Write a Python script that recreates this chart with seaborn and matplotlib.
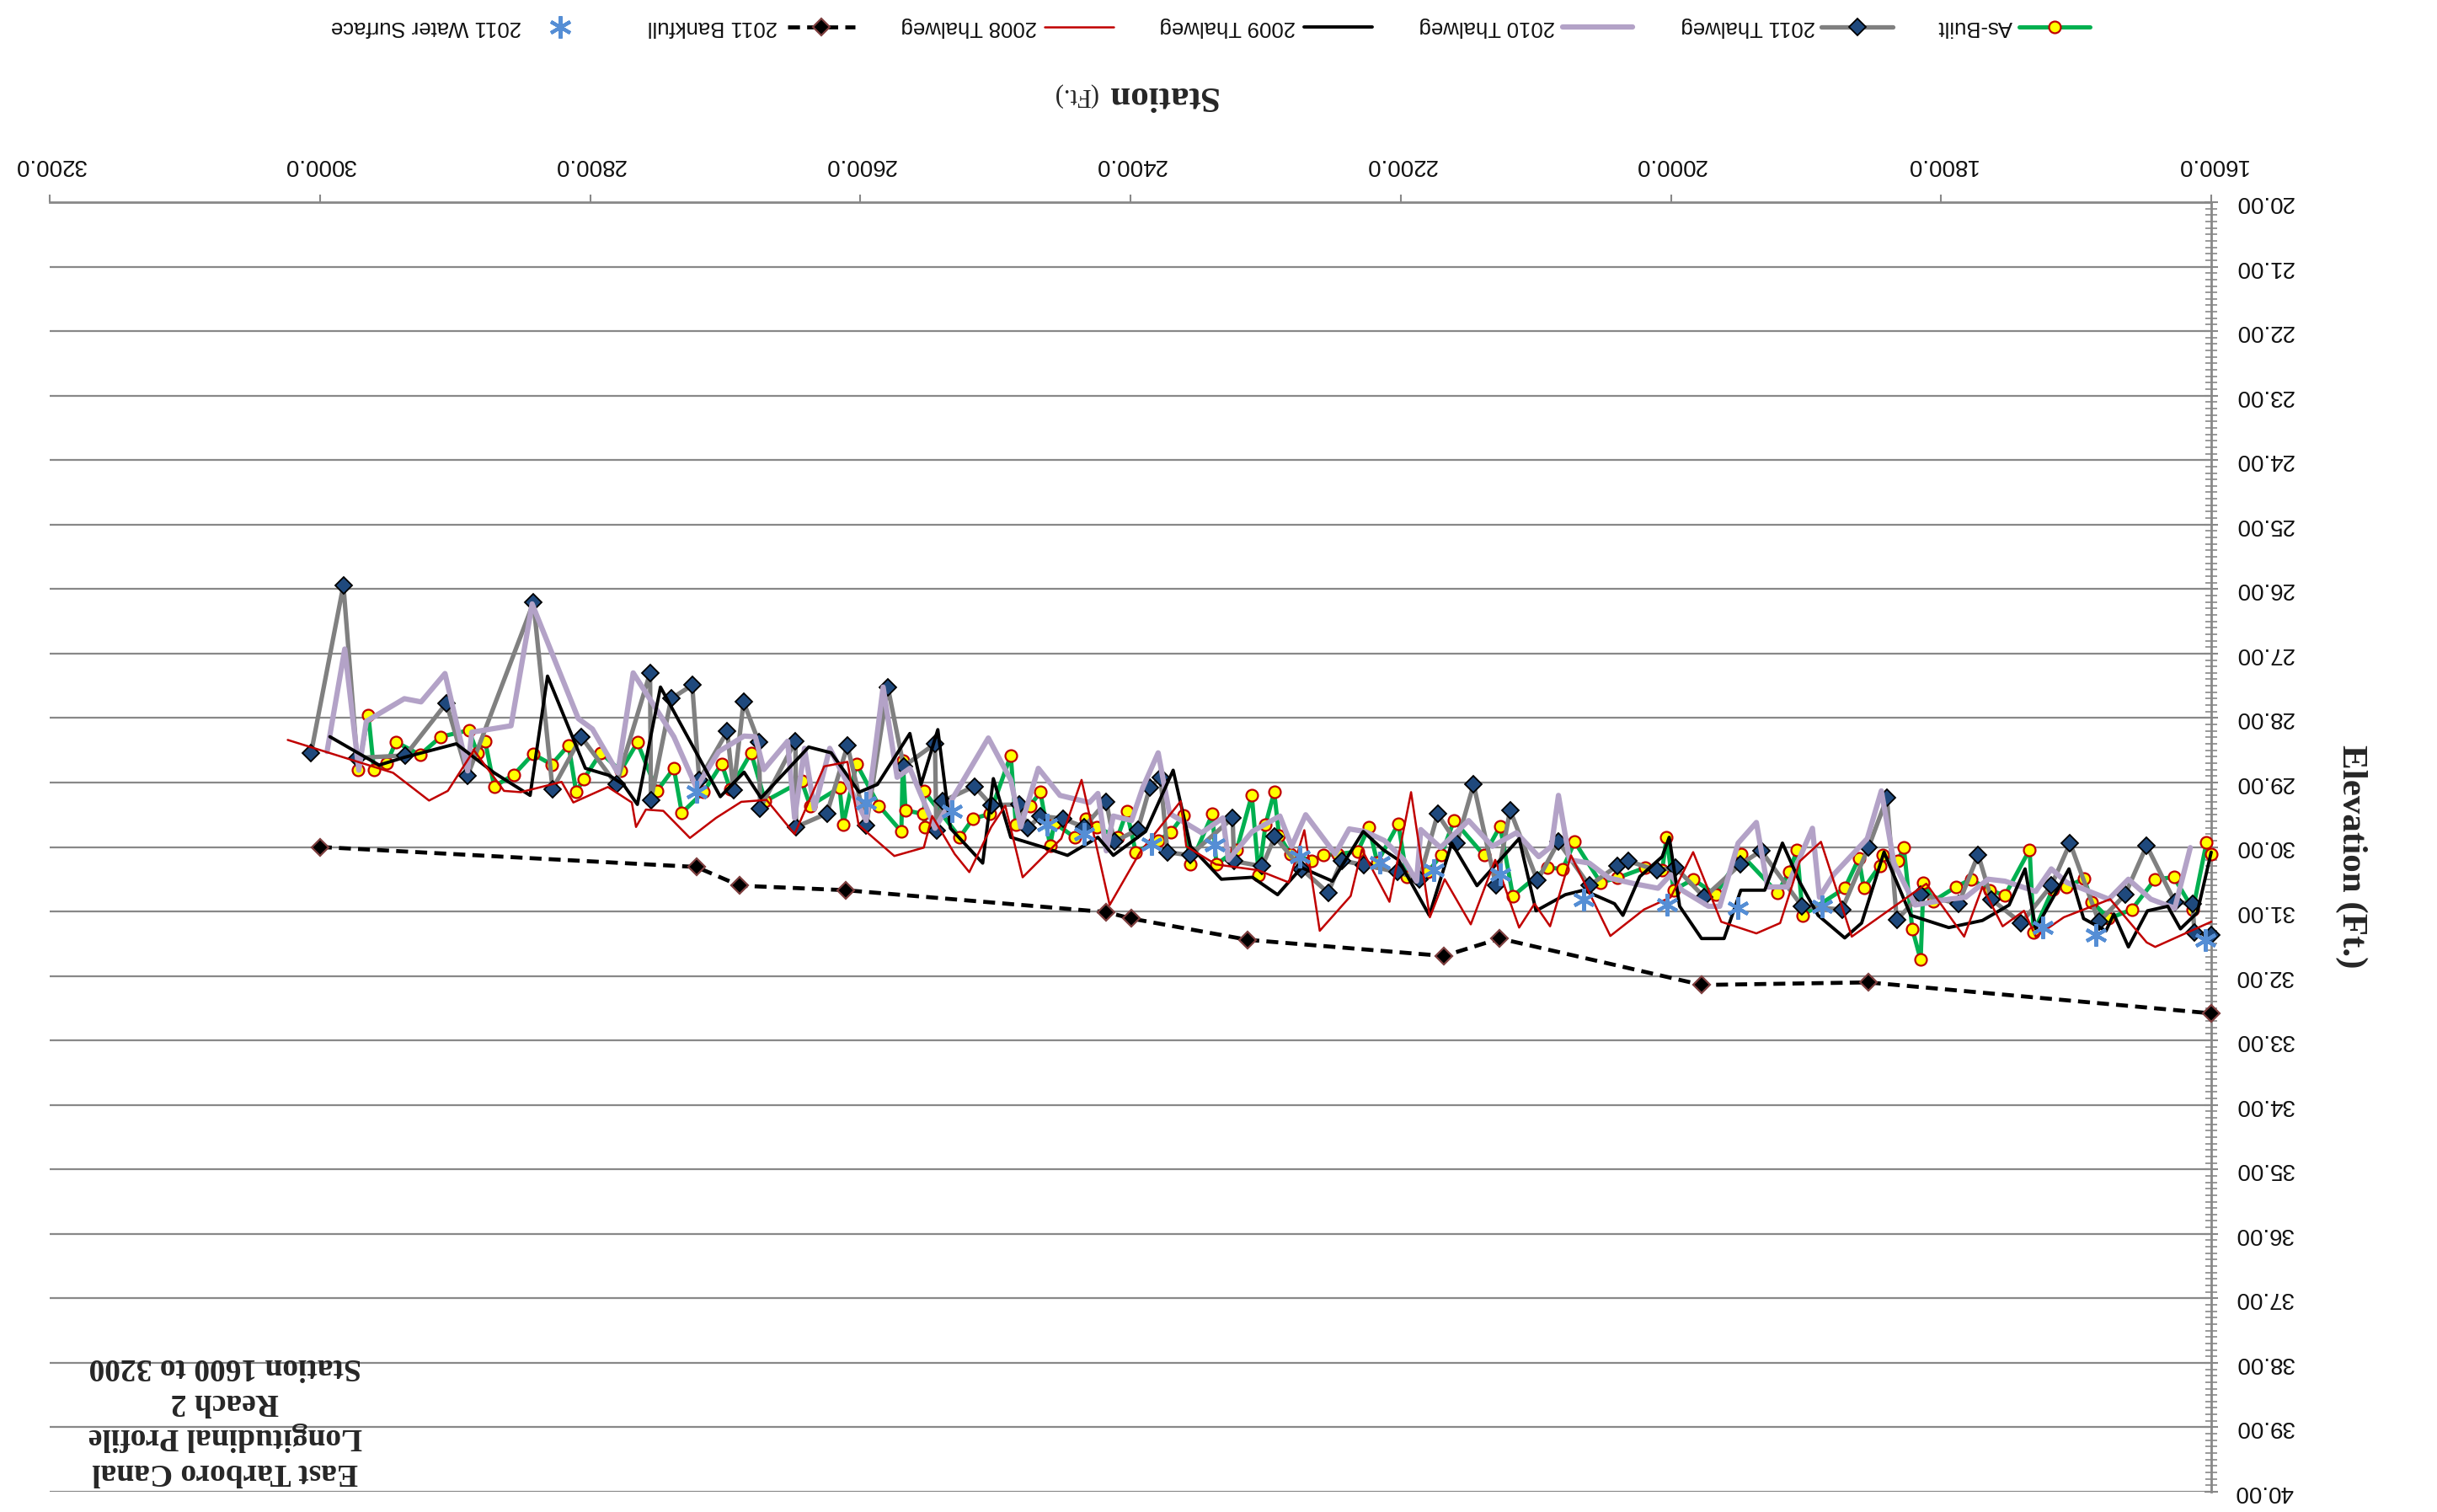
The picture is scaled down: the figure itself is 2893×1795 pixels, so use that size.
import matplotlib
matplotlib.use("Agg")
import matplotlib.pyplot as plt
import seaborn as sns
import pandas as pd
from matplotlib.lines import Line2D
from matplotlib.ticker import MultipleLocator

# ---------------- data (station ft, elevation ft) ----------------
station_ticks = [1600, 1800, 2000, 2200, 2400, 2600, 2800, 3000, 3200]
elev_ticks = list(range(20, 41))

as_built = [
    (2971.8, 28.81), (2964.1, 27.95), (2960.0, 28.80), (2950.4, 28.70), (2943.8, 28.37), (2925.9, 28.57),
    (2910.5, 28.29), (2889.7, 28.19), (2883.5, 28.54), (2877.7, 28.36), (2871.0, 29.06), (2856.5, 28.88),
    (2842.3, 28.56), (2828.4, 28.72), (2815.9, 28.42), (2810.3, 29.15), (2804.9, 28.95), (2792.0, 28.54),
    (2777.4, 28.82), (2765.0, 28.38), (2750.4, 29.13), (2738.0, 28.78), (2732.1, 29.47), (2716.1, 29.15),
    (2702.6, 28.71), (2696.4, 29.10), (2680.8, 28.54), (2670.4, 29.29), (2643.4, 28.98), (2637.1, 29.36),
    (2615.3, 29.08), (2612.6, 29.65), (2602.8, 28.71), (2586.2, 29.36), (2569.6, 29.76), (2568.5, 28.66),
    (2566.5, 29.43), (2553.4, 29.49), (2552.0, 29.69), (2553.0, 29.13),
    (2526.4, 29.85), (2516.6, 29.56), (2504.2, 29.49), (2488.6, 28.58), (2484.8, 29.66), (2474.4, 29.36),
    (2466.7, 29.15), (2459.5, 29.98), (2456.4, 29.63), (2441.2, 29.85), (2432.9, 29.56), (2425.2, 29.69),
    (2409.6, 29.85), (2402.7, 29.45), (2396.1, 30.08), (2379.5, 29.90), (2370.1, 29.77), (2360.8, 29.51),
    (2355.6, 30.27), (2339.4, 29.49), (2336.4, 30.27), (2321.3, 30.04),
    (2310.2, 29.20), (2305.0, 30.44), (2300.0, 29.65), (2293.6, 29.15), (2290.0, 29.82), (2281.7, 30.11),
    (2266.1, 30.21), (2257.2, 30.13), (2246.4, 30.11), (2231.8, 30.07), (2223.5, 29.69), (2217.3, 30.24),
    (2201.7, 29.64), (2195.5, 30.46), (2179.9, 30.39), (2170.1, 30.13), (2160.5, 29.59), (2138.3, 30.13),
    (2126.4, 29.68), (2116.9, 30.76), (2091.5, 30.32), (2080.1, 30.34),
    (2071.2, 29.92), (2052.1, 30.55), (2039.6, 30.48), (2018.8, 30.32), (2006.4, 30.36), (2003.2, 29.85),
    (1998.0, 30.67), (1983.5, 30.50), (1966.9, 30.74), (1948.2, 30.11), (1921.1, 30.71), (1912.4, 30.39),
    (1906.6, 30.05), (1902.4, 31.06), (1871.3, 30.64), (1860.9, 30.18), (1857.1, 30.64), (1845.3, 30.29),
    (1843.2, 30.13),
    (1831.7, 30.21), (1827.6, 30.00), (1821.3, 31.27), (1815.1, 31.75), (1813.0, 30.55), (1805.7, 30.84),
    (1789.1, 30.62), (1777.7, 30.50), (1764.2, 30.67), (1752.7, 30.75), (1734.4, 30.04), (1731.5, 31.32),
    (1717.4, 30.66), (1707.0, 30.62), (1694.1, 30.49), (1688.3, 30.85), (1675.8, 31.11), (1658.8, 30.97),
    (1641.5, 30.50), (1627.6, 30.47), (1613.5, 30.97), (1603.5, 29.93), (1600.0, 30.11),
]

thalweg_2011 = [
    (3006.5, 28.54), (2982.6, 25.94), (2972.5, 28.62), (2936.7, 28.58), (2906.4, 27.77), (2890.6, 28.89),
    (2841.9, 26.21), (2827.8, 29.10), (2806.6, 28.29),
    (2780.6, 29.03), (2755.6, 27.30), (2755.0, 29.27), (2740.0, 27.70), (2724.4, 27.49), (2719.2, 28.96),
    (2698.5, 28.21), (2693.9, 29.12), (2686.4, 27.75), (2675.0, 28.38), (2674.1, 29.40), (2648.0, 28.36),
    (2647.5, 29.69), (2624.7, 29.48), (2609.5, 28.43), (2595.6, 29.67), (2579.6, 27.52), (2567.9, 28.75),
    (2544.7, 28.40), (2543.7, 29.74), (2538.9, 29.29), (2515.6, 29.06), (2503.1, 29.35), (2482.3, 29.34),
    (2476.1, 29.71), (2466.7, 29.52), (2450.1, 29.56), (2434.5, 29.69), (2417.9, 29.30), (2412.1, 29.92),
    (2394.6, 29.73), (2385.7, 29.08), (2377.8, 28.92), (2372.6, 30.08), (2356.0, 30.13), (2324.4, 29.55),
    (2323.3, 30.22),
    (2302.5, 30.30), (2293.1, 29.84), (2273.4, 30.34), (2253.7, 30.71), (2243.7, 30.21), (2227.0, 30.28),
    (2202.1, 30.39), (2186.1, 30.50), (2172.6, 29.49), (2158.5, 29.94), (2146.0, 29.03), (2129.4, 30.60),
    (2119.0, 29.43), (2098.8, 30.52), (2083.2, 29.92),
    (2060.4, 30.60), (2039.6, 30.29), (2031.3, 30.22), (2010.5, 30.36), (1996.4, 30.32), (1975.2, 30.78),
    (1948.6, 30.27), (1933.2, 30.06), (1902.9, 30.92), (1873.3, 30.97), (1853.6, 30.00), (1840.1, 29.24),
    (1832.8, 31.13), (1815.1, 30.74), (1787.0, 30.88), (1772.5, 30.12), (1762.7, 30.81), (1740.7, 31.18),
    (1718.4, 30.60), (1704.5, 29.94), (1683.1, 31.16), (1663.8, 30.74), (1647.8, 29.98), (1627.0, 30.85),
    (1613.9, 30.88), (1612.4, 31.32), (1600.0, 31.37),
]

thalweg_2010 = [
    (2994.7, 28.52), (2981.6, 26.93), (2971.2, 28.81), (2965.6, 28.05), (2937.5, 27.70), (2925.1, 27.75),
    (2907.4, 27.31), (2890.6, 28.82), (2887.6, 28.22), (2858.5, 28.12), (2842.9, 26.23), (2808.7, 28.01),
    (2798.3, 28.17),
    (2779.5, 28.85), (2768.1, 27.30), (2738.0, 28.29), (2721.3, 29.08), (2704.7, 28.52), (2686.0, 28.28),
    (2677.7, 28.29), (2671.4, 28.80), (2653.8, 28.36), (2648.6, 29.55), (2641.3, 28.47), (2634.0, 29.41),
    (2622.6, 28.47), (2595.6, 29.59), (2583.1, 27.52), (2572.7, 28.92), (2563.3, 28.78),
    (2544.7, 29.71), (2505.2, 28.31), (2488.6, 28.96), (2481.3, 29.69), (2468.2, 28.78), (2452.2, 29.20),
    (2430.4, 29.31), (2424.1, 29.17), (2417.9, 30.06), (2412.7, 29.52), (2399.2, 29.59), (2390.9, 29.08),
    (2379.5, 28.54), (2371.1, 29.48), (2347.3, 29.78), (2331.6, 29.55), (2327.5, 30.20),
    (2309.8, 29.76), (2289.4, 29.52), (2280.7, 29.99), (2270.3, 29.50), (2248.5, 30.11), (2238.1, 29.72),
    (2226.6, 29.76), (2212.1, 29.90), (2197.5, 30.20), (2188.2, 30.53), (2185.1, 29.73), (2170.5, 30.01),
    (2149.7, 29.59), (2132.1, 29.99), (2114.4, 29.78), (2097.8, 30.15), (2088.4, 29.99), (2083.2, 29.20),
    (2075.0, 30.20), (2060.4, 30.25), (2045.9, 30.48), (2027.1, 30.57), (2009.5, 30.64), (2000.1, 30.43),
    (1991.8, 30.67), (1972.1, 30.92), (1963.8, 30.92), (1950.2, 29.94), (1936.7, 29.62), (1928.4, 30.62),
    (1913.9, 30.62), (1895.2, 29.71), (1890.0, 30.78), (1879.6, 30.43), (1854.6, 29.87), (1844.2, 29.13),
    (1834.8, 30.25), (1819.2, 30.90), (1794.3, 30.81), (1781.8, 30.78), (1765.2, 30.50), (1752.7, 30.53),
    (1729.9, 30.69), (1718.4, 30.34), (1707.0, 30.55), (1675.8, 30.81), (1661.3, 30.50), (1644.7, 30.81),
    (1627.0, 30.95), (1615.5, 30.01),
]

thalweg_2009 = [
    (2992.6, 28.29), (2956.2, 28.73), (2937.5, 28.61), (2899.1, 28.40), (2871.0, 28.85), (2844.4, 29.20),
    (2831.5, 27.35), (2803.5, 28.78),
    (2785.8, 28.89), (2775.4, 29.03), (2765.0, 29.34), (2747.9, 27.52), (2703.6, 29.22), (2686.0, 28.84),
    (2673.5, 29.24), (2638.2, 28.45), (2621.5, 28.54), (2600.8, 29.15), (2587.3, 29.03), (2563.3, 28.24),
    (2555.0, 29.03),
    (2542.6, 28.18), (2533.3, 29.71), (2509.4, 30.25), (2501.5, 28.94), (2488.6, 29.85), (2463.6, 30.01),
    (2446.6, 30.13), (2424.1, 29.85), (2412.7, 30.13), (2388.8, 29.76), (2368.4, 28.81), (2355.6, 29.99),
    (2332.7, 30.50),
    (2309.8, 30.47), (2291.1, 30.74), (2273.4, 30.32), (2250.5, 30.53), (2227.7, 29.76), (2213.1, 30.04),
    (2201.7, 30.20), (2178.8, 31.06), (2162.2, 29.94), (2143.5, 30.60), (2112.3, 29.87), (2099.8, 30.99),
    (2078.1, 30.74), (2064.6, 30.67), (2041.7, 30.88), (2035.5, 31.06), (2023.0, 30.46), (2006.4, 30.15),
    (2001.2, 29.85), (1993.5, 30.92), (1977.3, 31.42), (1960.6, 31.42), (1948.2, 30.67), (1930.5, 30.67),
    (1917.4, 29.94), (1904.5, 30.55), (1891.0, 31.06), (1871.3, 31.41), (1858.8, 31.18), (1842.2, 30.08),
    (1822.4, 31.06), (1794.3, 31.25), (1769.4, 31.14), (1749.6, 30.90), (1737.8, 30.34), (1729.9, 31.27),
    (1705.3, 30.34), (1694.5, 31.11), (1677.9, 31.30), (1672.1, 31.04), (1661.3, 31.55), (1647.2, 30.99),
    (1632.2, 30.92), (1622.8, 31.27), (1610.4, 31.02), (1600.0, 30.08),
]

thalweg_2008 = [
    (3023.8, 28.34), (2945.8, 28.85), (2919.2, 29.28), (2905.3, 29.13), (2886.0, 28.50), (2863.7, 29.13),
    (2851.3, 29.15), (2821.1, 28.99), (2812.4, 29.31),
    (2786.8, 29.07), (2769.1, 29.31), (2766.0, 29.69), (2758.7, 29.42), (2745.8, 29.44), (2726.1, 29.86),
    (2706.8, 29.55), (2688.1, 29.30), (2669.4, 29.27), (2648.6, 29.80), (2626.7, 28.75), (2609.5, 28.68),
    (2601.2, 29.66), (2574.8, 30.14), (2553.0, 30.01),
    (2546.8, 29.52), (2530.1, 30.11), (2519.3, 30.39), (2503.1, 29.69), (2492.7, 29.36), (2479.8, 30.47),
    (2451.2, 29.87), (2436.2, 28.96), (2415.4, 30.90), (2392.9, 30.08), (2362.8, 29.29), (2358.7, 29.99),
    (2336.8, 30.27),
    (2305.6, 30.36), (2282.8, 30.55), (2271.3, 29.74), (2259.9, 31.30), (2237.0, 30.76), (2228.7, 30.04),
    (2208.3, 30.85), (2192.3, 29.15), (2178.4, 31.09), (2167.4, 30.50), (2148.1, 31.20), (2130.0, 30.20),
    (2112.3, 31.25), (2100.9, 30.88), (2089.4, 31.23),
    (2073.9, 30.13), (2044.8, 31.38), (2019.9, 30.97), (2000.1, 30.78), (1983.5, 30.08), (1962.7, 31.16),
    (1936.7, 31.34), (1919.1, 31.18), (1904.5, 30.22), (1888.9, 29.92), (1866.1, 31.39),
    (1810.9, 30.57), (1782.9, 31.39), (1769.4, 30.62), (1754.4, 31.23), (1738.6, 30.99), (1729.9, 31.39),
    (1709.1, 31.09), (1674.8, 30.81), (1647.8, 31.48), (1641.5, 31.55), (1600.0, 31.16),
]

bankfull_2011 = [
    (3000.0, 30.00), (2721.4, 30.31), (2689.2, 30.60), (2611.0, 30.67), (2417.8, 31.01), (2399.4, 31.11),
    (2313.1, 31.44), (2168.0, 31.69), (2126.6, 31.42), (1977.0, 32.14), (1854.0, 32.10), (1600.0, 32.58),
]

water_surface_2011 = [
    (2721.3, 29.15), (2595.6, 29.31), (2532.2, 29.45), (2462.0, 29.66), (2434.1, 29.80), (2384.6, 29.96),
    (2337.9, 29.97), (2274.4, 30.15), (2215.2, 30.24), (2175.7, 30.36), (2126.4, 30.42), (2064.6, 30.81),
    (2002.6, 30.90), (1950.2, 30.95), (1888.3, 30.92), (1724.7, 31.25), (1685.2, 31.36), (1604.1, 31.44),
]

legend_labels = ["As-Built", "2011 Thalweg", "2010 Thalweg", "2009 Thalweg",
                 "2008 Thalweg", "2011 Bankfull", "2011 Water Surface"]

title_lines = ["East Tarboro Canal", "Longitudinal Profile", "Reach 2", "Station 1600 to 3200"]

# ---------------- styling ----------------
sns.set_style("white")
plt.rcParams["font.family"] = ["Liberation Sans", "DejaVu Sans"]

W, H = 2893, 1795
GRID = "#888888"
fig = plt.figure(figsize=(W / 100, H / 100), dpi=100)
ax = fig.add_axes([59 / W, 24 / H, 2566 / W, 1531 / H])

C_GREEN, C_YEL, C_RED = "#00B050", "#FFFF00", "#C00000"
C_GRAY, C_NAVY = "#808080", "#1F497D"
C_PURP, C_BLUE = "#B3A2C7", "#558ED5"
C_BROWN = "#7F3F3F"

styles = [
    dict(color=C_GREEN, lw=3.6, marker="o", ms=10, mfc=C_YEL, mec=C_RED, mew=1.6, zorder=3),
    dict(color=C_GRAY, lw=3.8, marker="D", ms=10, mfc=C_NAVY, mec="black", mew=1.3, zorder=4),
    dict(color=C_PURP, lw=4.5, zorder=5),
    dict(color="black", lw=2.8, zorder=6),
    dict(color=C_RED, lw=1.8, zorder=7),
    dict(color="black", lw=3.4, ls=(0, (3, 1.8)), marker="D", ms=10, mfc="black", mec=C_BROWN, mew=1.6, zorder=8),
    dict(color=C_BLUE, ls="none", marker=(6, 2, 0), ms=19, mew=3, mec=C_BLUE, zorder=9),
]

series = [as_built, thalweg_2011, thalweg_2010, thalweg_2009, thalweg_2008,
          bankfull_2011, water_surface_2011]

for data, st in zip(series, styles):
    df = pd.DataFrame(data, columns=["Station", "Elevation"])
    sns.lineplot(data=df, x="Station", y="Elevation", sort=False, estimator=None,
                 ax=ax, clip_on=False, **st)

ax.set_xlabel("")
ax.set_ylabel("")
ax.set_xlim(3200, 1600)
ax.set_ylim(40, 20)
ax.xaxis.tick_top()
ax.yaxis.tick_right()
ax.set_xticks(station_ticks)
ax.set_xticklabels([f"{v:.1f}" for v in station_ticks], rotation=180)
ax.set_yticks(elev_ticks)
ax.set_yticklabels([f"{v:.2f}" for v in elev_ticks], rotation=180)
for lbl in ax.get_yticklabels():
    lbl.set_va("center")
ax.yaxis.set_minor_locator(MultipleLocator(0.1))
ax.tick_params(axis="x", which="major", direction="out", length=6.5, width=1.5,
               color=GRID, pad=16, labelsize=20, labelcolor="#111111")
ax.tick_params(axis="y", which="major", direction="inout", length=12, width=1.5,
               color=GRID, pad=14, labelsize=20, labelcolor="#111111")
ax.tick_params(axis="y", which="minor", direction="inout", length=10, width=1.2, color=GRID)
ax.set_axisbelow(True)
ax.grid(axis="y", color=GRID, lw=1.6)
ax.grid(axis="x", visible=False)
for s in ["left", "bottom"]:
    ax.spines[s].set_visible(False)
for s in ["top", "right"]:
    ax.spines[s].set_color(GRID)
    ax.spines[s].set_linewidth(2.0)

# axis titles (upside down)
fig.text(1379 / W, 1 - 113 / H, "Station", rotation=180, ha="center", va="center",
         fontsize=31, fontweight="bold", family="Liberation Serif")
fig.text(1276 / W, 1 - 113 / H, "(Ft.)", rotation=180, ha="center", va="center",
         fontsize=22, family="Liberation Serif")
fig.text(2791 / W, 1 - 1017 / H, "Elevation (Ft.)", rotation=270, ha="center", va="center",
         fontsize=31, fontweight="bold", family="Liberation Serif")

# chart note box
fig.text(267 / W, 1 - 1685 / H, "\n".join(title_lines), rotation=180, ha="center", va="center",
         multialignment="center", fontsize=27, fontweight="bold", family="Liberation Serif",
         linespacing=1.25)

# legend (drawn upside down, as in the reference)
yl = 1 - 32 / H
leg_geo = [  # sample start, sample end, text right edge
    (2397, 2481, 2389), (2162, 2247, 2155), (1855, 1938, 1846), (1548, 1629, 1538),
    (1240, 1322, 1231), (935, 1015, 923), (650, 680, 619),
]
for (x0, x1, xt), lab, st in zip(leg_geo, legend_labels, styles):
    kw = {k: v for k, v in st.items() if k != "zorder"}
    xm = (x0 + x1) / 2
    if kw.get("ls") == "none":
        xs = [xm / W]
        me = None
    else:
        xs = [x0 / W, xm / W, x1 / W]
        me = [1]
    ln = Line2D(xs, [yl] * len(xs), transform=fig.transFigure, markevery=me, **kw)
    fig.add_artist(ln)
    fig.text(xt / W, yl, lab, rotation=180, ha="right", va="center", fontsize=18.5, color="#111111")

fig.savefig("out.png", dpi=100)
